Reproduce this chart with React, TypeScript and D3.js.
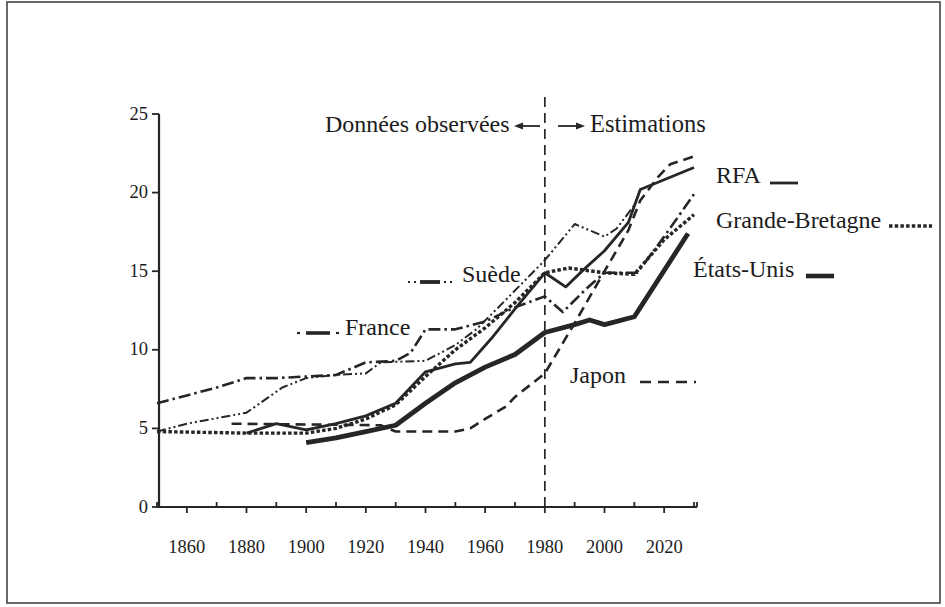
import React from "react";
import * as d3 from "d3";

// ---- data (share of population aged 65+, %) ----
const franceYears = [1850, 1860, 1870, 1880, 1890, 1900, 1910, 1920, 1930, 1935, 1940, 1950, 1960, 1970, 1980, 1986, 1994, 2000, 2011, 2020, 2030];
const franceValues = [6.6, 7.1, 7.6, 8.2, 8.2, 8.3, 8.4, 9.2, 9.3, 9.8, 11.3, 11.3, 11.8, 12.7, 13.4, 12.4, 13.9, 14.9, 14.9, 17.2, 19.9];

const suedeYears = [1850, 1860, 1880, 1892, 1900, 1910, 1920, 1925, 1940, 1950, 1957, 1966, 1980, 1990, 2000, 2004, 2010];
const suedeValues = [4.8, 5.3, 6.0, 7.6, 8.2, 8.4, 8.5, 9.2, 9.3, 10.3, 11.3, 13.0, 15.7, 18.0, 17.2, 17.7, 19.2];

const gbYears = [1850, 1880, 1900, 1910, 1920, 1930, 1940, 1950, 1960, 1970, 1980, 1988, 2000, 2010, 2020, 2030];
const gbValues = [4.8, 4.7, 4.7, 5.0, 5.6, 6.5, 8.3, 10.0, 11.4, 13.0, 14.9, 15.2, 14.9, 14.8, 17.0, 18.6];

const rfaYears = [1880, 1890, 1900, 1910, 1920, 1930, 1940, 1950, 1955, 1962, 1970, 1980, 1987, 1993, 2000, 2008, 2012, 2030];
const rfaValues = [4.7, 5.3, 4.9, 5.3, 5.8, 6.6, 8.6, 9.1, 9.2, 10.7, 12.6, 14.9, 14.0, 15.1, 16.3, 18.1, 20.2, 21.6];

const japonYears = [1875, 1925, 1930, 1950, 1955, 1960, 1967, 1970, 1980, 1990, 2000, 2008, 2012, 2018, 2022, 2030];
const japonValues = [5.3, 5.2, 4.8, 4.8, 5.0, 5.6, 6.4, 7.0, 8.5, 11.7, 15.0, 17.6, 19.5, 21.0, 21.8, 22.3];

const usYears = [1900, 1910, 1920, 1930, 1940, 1950, 1960, 1970, 1980, 1990, 1995, 2000, 2010, 2028];
const usValues = [4.1, 4.4, 4.8, 5.2, 6.6, 7.9, 8.9, 9.7, 11.1, 11.6, 11.9, 11.6, 12.1, 17.4];

const yTicks = [0, 5, 10, 15, 20, 25];
const xLabelYears = [1860, 1880, 1900, 1920, 1940, 1960, 1980, 2000, 2020];
const splitYear = 1980;

const W = 945;
const H = 607;
const INK = "#262626";
const FONT = "'Liberation Serif', 'Times New Roman', serif";

const x = d3.scaleLinear().domain([1850, 2030]).range([157, 694]);
const y = d3.scaleLinear().domain([0, 25]).range([507, 114]);

type S = { name: string; years: number[]; values: number[]; width: number; dash?: string };
const series: S[] = [
  { name: "Suède", years: suedeYears, values: suedeValues, width: 2.0, dash: "9 3 2 3 2 3" },
  { name: "France", years: franceYears, values: franceValues, width: 2.6, dash: "12 4 2.5 4" },
  { name: "Japon", years: japonYears, values: japonValues, width: 2.6, dash: "10 6" },
  { name: "Grande-Bretagne", years: gbYears, values: gbValues, width: 3.4, dash: "3.5 2.2" },
  { name: "RFA", years: rfaYears, values: rfaValues, width: 2.8 },
  { name: "États-Unis", years: usYears, values: usValues, width: 4.8 },
];

const line = d3
  .line<[number, number]>()
  .x((d) => x(d[0]))
  .y((d) => y(d[1]))
  .curve(d3.curveLinear);

export default function App() {
  const decades = d3.range(1850, 2031, 10);
  const txt = { fontFamily: FONT, fill: "#1c1c1c" } as const;
  return (
    <svg width={W} height={H} style={{ position: "absolute", left: 0, top: 0, background: "#fff" }}>
      <rect x={0} y={0} width={W} height={H} fill="#fff" />
      {/* frame */}
      <rect x={7} y={2} width={933} height={601} fill="none" stroke="#444" strokeWidth={1.6} />

      {/* y axis */}
      <line x1={x(1850) + 2} y1={y(25)} x2={x(1850) + 2} y2={y(0)} stroke={INK} strokeWidth={2.2} />
      {yTicks.map((t) => (
        <g key={t}>
          <line x1={x(1850) - 5} x2={x(1850) + 2} y1={y(t)} y2={y(t)} stroke={INK} strokeWidth={1.8} />
          <text x={148} y={y(t)} dy="0.3em" textAnchor="end" fontSize={18.5} {...txt}>
            {t}
          </text>
        </g>
      ))}

      {/* x axis */}
      <line x1={x(1850)} y1={y(0)} x2={697} y2={y(0)} stroke={INK} strokeWidth={2.2} />
      {decades.map((d) => {
        const labeled = xLabelYears.includes(d);
        return (
          <line
            key={d}
            x1={x(d)}
            x2={x(d)}
            y1={y(0)}
            y2={labeled ? y(0) + 6 : y(0) - 5}
            stroke={INK}
            strokeWidth={1.8}
          />
        );
      })}
      <line x1={697} x2={697} y1={y(0)} y2={y(0) - 5} stroke={INK} strokeWidth={1.8} />
      {xLabelYears.map((d) => (
        <text key={d} x={x(d)} y={553} textAnchor="middle" fontSize={18.5} {...txt}>
          {d}
        </text>
      ))}

      {/* observed / estimated split */}
      <line
        x1={x(splitYear)}
        x2={x(splitYear)}
        y1={97}
        y2={y(0)}
        stroke={INK}
        strokeWidth={1.7}
        strokeDasharray="10 6"
      />
      <text x={325} y={132} fontSize={24} {...txt}>
        Données observées
      </text>
      <line x1={521} x2={540} y1={126} y2={126} stroke={INK} strokeWidth={1.8} />
      <path d="M514,126 L523,122.5 L523,129.5 Z" fill={INK} />
      <line x1={558} x2={577} y1={126} y2={126} stroke={INK} strokeWidth={1.8} />
      <path d="M585,126 L576,122.5 L576,129.5 Z" fill={INK} />
      <text x={590} y={132} fontSize={24.5} {...txt}>
        Estimations
      </text>

      {/* series lines */}
      {series.map((s) => (
        <path
          key={s.name}
          d={line(s.years.map((yr, i) => [yr, s.values[i]] as [number, number])) || ""}
          fill="none"
          stroke={INK}
          strokeWidth={s.width}
          strokeDasharray={s.dash}
          strokeLinejoin="round"
        />
      ))}

      {/* labels with keys */}
      <text x={716} y={183} fontSize={24} {...txt}>RFA</text>
      <line x1={770} x2={798} y1={183} y2={183} stroke={INK} strokeWidth={2.8} />

      <text x={716} y={228} fontSize={24} {...txt}>Grande-Bretagne</text>
      <line x1={889} x2={932} y1={226} y2={226} stroke={INK} strokeWidth={3.4} strokeDasharray="3.5 2.2" />

      <text x={693} y={277} fontSize={24} {...txt}>États-Unis</text>
      <line x1={806} x2={834} y1={276} y2={276} stroke={INK} strokeWidth={4.6} />

      <text x={462} y={282} fontSize={24} {...txt}>Suède</text>
      <g stroke={INK}>
        <line x1={408} x2={410} y1={282} y2={282} strokeWidth={2.2} />
        <line x1={414} x2={416} y1={282} y2={282} strokeWidth={2.2} />
        <line x1={420} x2={440} y1={282} y2={282} strokeWidth={3.8} />
        <line x1={444} x2={446} y1={282} y2={282} strokeWidth={2.2} />
        <line x1={450} x2={452} y1={282} y2={282} strokeWidth={2.2} />
      </g>

      <text x={345} y={335} fontSize={24} {...txt}>France</text>
      <g stroke={INK}>
        <line x1={297} x2={300} y1={333} y2={333} strokeWidth={2.2} />
        <line x1={306} x2={330} y1={333} y2={333} strokeWidth={3.6} />
        <line x1={336} x2={339} y1={333} y2={333} strokeWidth={2.2} />
      </g>

      <text x={570} y={383} fontSize={24} {...txt}>Japon</text>
      <line x1={640} x2={696} y1={382} y2={382} stroke={INK} strokeWidth={2.6} strokeDasharray="11 7" />
    </svg>
  );
}
